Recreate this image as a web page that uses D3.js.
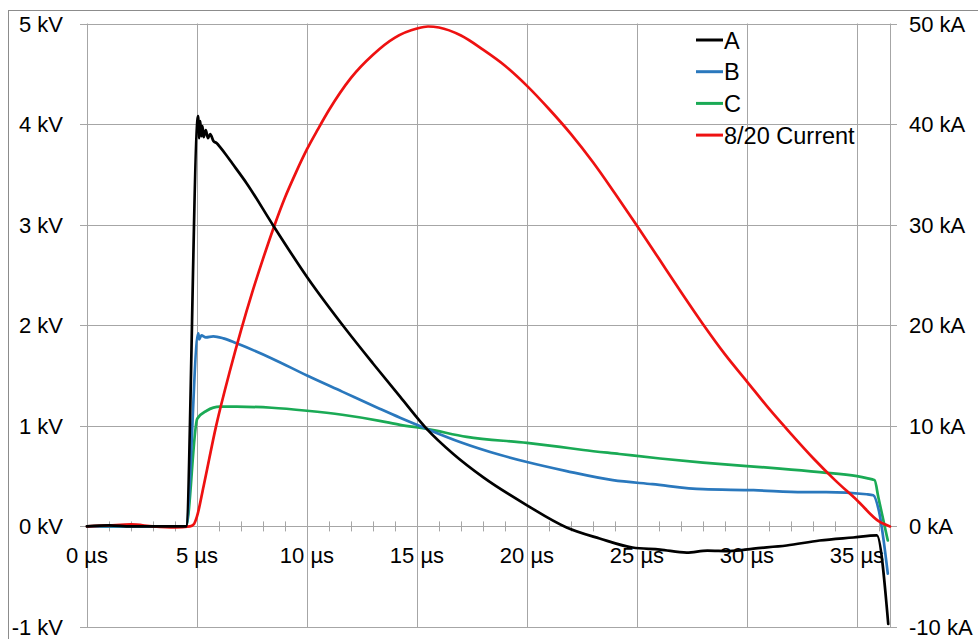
<!DOCTYPE html>
<html>
<head>
<meta charset="utf-8">
<script src="https://cdn.jsdelivr.net/npm/d3@7"></script>
<style>
  html, body { margin: 0; padding: 0; background: #fff; }
  svg { display: block; }
  text { font-family: "Liberation Sans", Arial, sans-serif; fill: #000; }
</style>
</head>
<body>
<svg id="chart" width="978" height="639"></svg>
<script>
// ---- Data ----
const seriesNames = ["A", "B", "C", "8/20 Current"];
const seriesColors = ["#000000", "#2a78bd", "#1aaa55", "#ee1111"];

const timeA = [0, 1, 2, 3, 4, 4.5, 5.05, 5.1, 5.15, 5.2, 5.25, 5.3, 5.4, 5.5, 5.6, 5.75, 5.9, 6.05, 6.3, 6.6, 7.26, 8.47, 10, 11.8, 13, 14.23, 15.44, 16.65, 18.0, 20, 21.8, 23.3, 24.8, 26.05, 27.26, 28.2, 29.2, 30.3, 31.8, 33.3, 34.83, 35.9, 36.42];
const voltsA = [0, 0.01, 0, 0, 0, 0, 4.08, 3.86, 4.03, 3.88, 3.98, 3.87, 3.94, 3.86, 3.90, 3.83, 3.81, 3.77, 3.70, 3.61, 3.41, 2.99, 2.48, 1.95, 1.62, 1.29, 0.97, 0.72, 0.49, 0.21, -0.01, -0.12, -0.21, -0.23, -0.26, -0.24, -0.245, -0.22, -0.19, -0.14, -0.11, -0.09, -0.97];

const timeB = [0, 2, 4, 4.5, 5.06, 5.1, 5.2, 5.4, 5.74, 6.2, 6.8, 8.4, 10, 11.6, 13.3, 14.23, 15.44, 16.95, 18.8, 20, 21.8, 23.9, 25.7, 28, 30.3, 32.56, 33.6, 35.44, 35.74, 36.0, 36.4];
const voltsB = [0, 0, 0, 0, 1.92, 1.86, 1.90, 1.88, 1.89, 1.87, 1.82, 1.67, 1.50, 1.34, 1.17, 1.08, 0.97, 0.84, 0.71, 0.64, 0.55, 0.46, 0.42, 0.37, 0.36, 0.34, 0.34, 0.32, 0.31, 0.15, -0.47];

const timeC = [0, 2, 4, 4.5, 5.01, 5.44, 6.05, 6.8, 8.4, 10, 11.6, 13.3, 14.23, 15.44, 17.26, 20, 21.5, 22.56, 24.2, 26.05, 28, 30, 31.5, 33.3, 35.0, 35.44, 35.8, 35.97, 36.4];
const voltsC = [0, 0, 0, 0, 1.07, 1.15, 1.19, 1.19, 1.18, 1.15, 1.11, 1.05, 1.01, 0.97, 0.89, 0.83, 0.79, 0.76, 0.72, 0.675, 0.635, 0.60, 0.575, 0.54, 0.50, 0.48, 0.46, 0.29, -0.14];

const timeI = [0, 1, 2, 3, 4, 4.68, 4.85, 5.0, 5.3, 5.87, 6.5, 7.0, 7.5, 8.0, 8.5, 9.0, 9.5, 10, 10.5, 11, 12, 13, 14, 15, 15.5, 16, 17, 18, 19, 20, 21, 22, 23, 24, 25, 26, 27, 28, 29, 30, 31, 32, 33, 34, 35, 36, 36.5];
const currentI = [0, 0.1, 0.2, 0, -0.1, 0, 0.2, 1.0, 4.0, 10.0, 15.5, 19.5, 23.2, 26.6, 29.8, 32.7, 35.2, 37.5, 39.5, 41.4, 44.6, 46.9, 48.6, 49.5, 49.7, 49.6, 48.8, 47.4, 45.8, 43.8, 41.5, 39.0, 36.2, 33.1, 29.9, 26.6, 23.3, 20.1, 17.1, 14.4, 11.7, 9.2, 6.8, 4.6, 2.6, 0.5, 0.0];

const voltTicks = [-1, 0, 1, 2, 3, 4, 5];
const currentTicks = [-10, 0, 10, 20, 30, 40, 50];
const timeTicks = [0, 5, 10, 15, 20, 25, 30, 35];
const minorTimeTicks = d3.range(0, 37, 1);

// ---- Layout ----
const svg = d3.select("#chart");
const plotLeft = 87, plotRight = 890, plotTop = 23.5, plotBottom = 627;
const gridColor = "#a6a6a6";

const x = d3.scaleLinear().domain([0, 36.5]).range([plotLeft, plotRight]);
const yV = d3.scaleLinear().domain([-1, 5]).range([plotBottom, plotTop]);
const yI = d3.scaleLinear().domain([-10, 50]).range([plotBottom, plotTop]);

// outer border
svg.append("rect").attr("x", 8.5).attr("y", 10.5).attr("width", 1000).attr("height", 700)
  .attr("fill", "none").attr("stroke", "#8c8c8c").attr("stroke-width", 1);

// gridlines
const g = svg.append("g");
g.selectAll("line.h").data(voltTicks).join("line")
  .attr("x1", plotLeft - 7).attr("x2", plotRight + 7)
  .attr("y1", d => Math.round(yV(d)) + 0.5).attr("y2", d => Math.round(yV(d)) + 0.5)
  .attr("stroke", gridColor).attr("stroke-width", 1);
g.selectAll("line.v").data(timeTicks).join("line")
  .attr("x1", d => Math.round(x(d)) + 0.5).attr("x2", d => Math.round(x(d)) + 0.5)
  .attr("y1", plotTop).attr("y2", plotBottom)
  .attr("stroke", gridColor).attr("stroke-width", 1);
g.append("line").attr("x1", plotRight + 0.5).attr("x2", plotRight + 0.5).attr("y1", plotTop).attr("y2", plotBottom)
  .attr("stroke", gridColor).attr("stroke-width", 1);

// minor ticks on the zero line
g.selectAll("line.m").data(minorTimeTicks).join("line")
  .attr("x1", d => Math.round(x(d)) + 0.5).attr("x2", d => Math.round(x(d)) + 0.5)
  .attr("y1", yV(0) - 5).attr("y2", yV(0) + 5)
  .attr("stroke", gridColor).attr("stroke-width", 1);

// axis labels
const fs = 22;
svg.append("g").selectAll("text").data(voltTicks).join("text")
  .attr("x", 63).attr("y", d => yV(d) + 8)
  .attr("text-anchor", "end").attr("font-size", fs)
  .text(d => (d < 0 ? "-" + Math.abs(d) : d) + " kV");
svg.append("g").selectAll("text").data(currentTicks).join("text")
  .attr("x", 909).attr("y", d => yI(d) + 8)
  .attr("text-anchor", "start").attr("font-size", fs)
  .text(d => (d < 0 ? "-" + Math.abs(d) : d) + " kA");
svg.append("g").selectAll("text").data(timeTicks).join("text")
  .attr("x", d => x(d)).attr("y", yV(0) + 37)
  .attr("text-anchor", "middle").attr("font-size", fs)
  .text(d => d + " µs");

// lines
const lineV = d3.line().x(d => x(d[0])).y(d => yV(d[1])).curve(d3.curveMonotoneX);
const lineI = d3.line().x(d => x(d[0])).y(d => yI(d[1])).curve(d3.curveMonotoneX);
const series = [
  {data: d3.zip(timeA, voltsA), line: lineV},
  {data: d3.zip(timeB, voltsB), line: lineV},
  {data: d3.zip(timeC, voltsC), line: lineV},
  {data: d3.zip(timeI, currentI), line: lineI}
];
const order = [2, 1, 3, 0];
order.forEach(i => {
  svg.append("path").attr("d", series[i].line(series[i].data))
    .attr("fill", "none").attr("stroke", seriesColors[i])
    .attr("stroke-width", 2.7).attr("stroke-linejoin", "round").attr("stroke-linecap", "round");
});

// legend
const legend = svg.append("g");
seriesNames.forEach((name, i) => {
  const cy = 40 + i * 31.7;
  legend.append("line").attr("x1", 696).attr("x2", 723).attr("y1", cy).attr("y2", cy)
    .attr("stroke", seriesColors[i]).attr("stroke-width", 3);
  legend.append("text").attr("x", 724).attr("y", cy + 8.5).attr("font-size", 23.5).text(name);
});
</script>
</body>
</html>
